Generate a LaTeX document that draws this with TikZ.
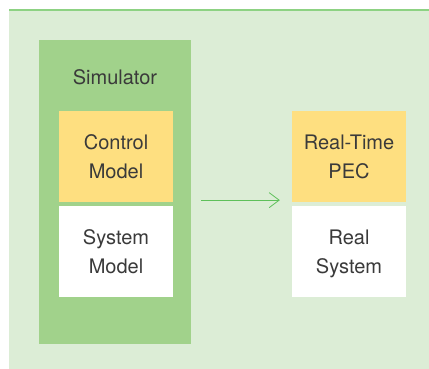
\documentclass[tikz,border=0pt]{standalone}
\usepackage{xcolor}
\usepackage{fontspec}
\setmainfont{TeX Gyre Heros}
\usepackage{tikz}
\usetikzlibrary{arrows.meta,positioning}

\definecolor{bgGreen}{HTML}{DCEDD6}
\definecolor{lineGreen}{HTML}{8DD283}
\definecolor{simGreen}{HTML}{A1D28B}
\definecolor{boxYellow}{HTML}{FEDF80}
\definecolor{arrowGreen}{HTML}{5EC05A}
\definecolor{textGray}{HTML}{3A3A3A}

\begin{document}
\begin{tikzpicture}[x=1pt,y=-1pt,node distance=4pt,
    every node/.style={font=\fontsize{20}{29}\selectfont, text=textGray, align=center},
    block/.style={minimum width=114pt, minimum height=90.7pt, inner sep=0pt, text depth=-2pt},
    ctrlbox/.style={block, fill=boxYellow},
    plantbox/.style={block, fill=white}]
    \useasboundingbox (0,0) rectangle (429,369);
    \fill[bgGreen] (9,10) rectangle (429,369);
    \draw[lineGreen, line width=1.5pt] (9,10) -- (429,10);

    % simulator side
    \node[fill=simGreen, minimum width=152pt, minimum height=304pt, inner sep=0pt] (sim) at (115,192) {};
    \node (simlabel) at (115,77) {Simulator};
    \node[ctrlbox] (ctrl) at (116,156.3) {Control\\Model};
    \node[plantbox, below=of ctrl] (sys) {System\\Model};

    % real side
    \node[ctrlbox] (rtpec) at (349,156.3) {Real-Time\\PEC};
    \node[plantbox, below=of rtpec] (real) {Real\\System};

    \draw[-{Straight Barb[length=10pt,width=15pt]}, arrowGreen, line width=0.8pt, shorten <=10pt, shorten >=12pt]
        ([yshift=1.7pt]sim.east |- rtpec.south) -- ([yshift=1.7pt]rtpec.south west);
\end{tikzpicture}
\end{document}
